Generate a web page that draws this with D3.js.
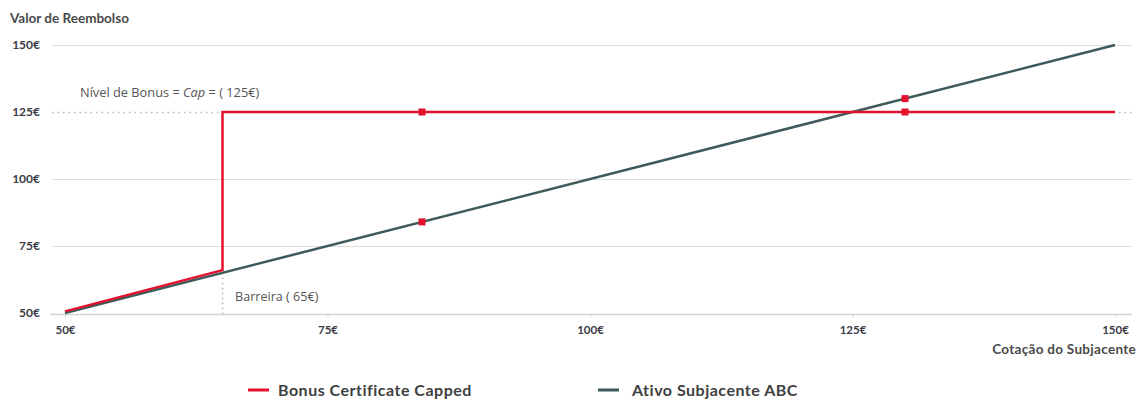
<!DOCTYPE html>
<html>
<head>
<meta charset="utf-8">
<script src="https://cdn.jsdelivr.net/npm/d3@7"></script>
<style>
  html, body { margin: 0; padding: 0; background: #fff; }
  svg { display: block; font-family: Lato, "Open Sans", sans-serif; }
</style>
</head>
<body>
<svg id="chart" width="1140" height="399"></svg>
<script>
// Payoff of a capped bonus certificate vs. the underlying asset
const xTicks = [50, 75, 100, 125, 150];
const yTicks = [50, 75, 100, 125, 150];
const xTickLabels = ["50€", "75€", "100€", "125€", "150€"];
const yTickLabels = ["50€", "75€", "100€", "125€", "150€"];

const barrier = 65;
const cap = 125;

// Bonus Certificate Capped: follows the underlying up to the barrier, then bonus/cap level
const bonusX = [50, 65, 65, 150];
const bonusY = [50.6, 66, 125, 125];

// Underlying asset ABC
const assetX = [50, 150];
const assetY = [50, 150];

// Highlighted points
const bonusMarkX = [84, 130];
const bonusMarkY = [125, 125];
const assetMarkX = [84, 130];
const assetMarkY = [84, 130];

const seriesNames = ["Bonus Certificate Capped", "Ativo Subjacente ABC"];
const seriesColors = ["#e3112e", "#3e5a5a"];

const svg = d3.select("#chart");
const x = d3.scaleLinear().domain([50, 150]).range([65, 1115]);
const y = d3.scaleLinear().domain([50, 150]).range([313, 45]);

const gridLeft = 52, gridRight = 1132;

// Horizontal gridlines (cap level drawn dotted)
const grid = svg.append("g");
yTicks.filter(v => v !== 50).forEach(v => {
  grid.append("line")
    .attr("x1", gridLeft).attr("x2", gridRight)
    .attr("y1", Math.round(y(v)) + 0.5).attr("y2", Math.round(y(v)) + 0.5)
    .attr("stroke", v === cap ? "#b5b5b5" : "#dedede")
    .attr("stroke-width", v === cap ? 1.5 : 1)
    .attr("stroke-dasharray", v === cap ? "1.5,4" : null);
});

// Barrier marker (dotted vertical)
svg.append("line")
  .attr("x1", Math.round(x(barrier)) - 0.5).attr("x2", Math.round(x(barrier)) - 0.5)
  .attr("y1", y(barrier)).attr("y2", y(50) + 1)
  .attr("stroke", "#b0b0b0").attr("stroke-width", 1.5)
  .attr("stroke-dasharray", "1.5,3.5");

// Y axis labels
const yAxis = d3.axisLeft(y).tickValues(yTicks)
  .tickFormat((d, i) => yTickLabels[i]).tickSize(0).tickPadding(0);
const gy = svg.append("g").attr("transform", "translate(40,0)").call(yAxis);
gy.select(".domain").remove();
gy.selectAll("text")
  .attr("fill", "#3b3b48").attr("font-size", 12).attr("font-weight", 700)
  .attr("font-family", "Lato, 'Open Sans', sans-serif");

// X axis
const xAxis = d3.axisBottom(x).tickValues(xTicks)
  .tickFormat((d, i) => xTickLabels[i]).tickSize(3).tickPadding(9);
const gx = svg.append("g").attr("transform", "translate(0,314)").call(xAxis);
gx.select(".domain").remove();
gx.insert("line", ":first-child")
  .attr("x1", 50).attr("x2", gridRight).attr("y1", 0.5).attr("y2", 0.5)
  .attr("stroke", "#d4d4d4").attr("stroke-width", 1.5);
gx.selectAll(".tick line").attr("stroke", "#cfcfcf");
gx.selectAll("text")
  .attr("fill", "#3b3b48").attr("font-size", 11.5).attr("font-weight", 700)
  .attr("font-family", "Lato, 'Open Sans', sans-serif");

// Lines
const line = d3.line().x(d => x(d[0])).y(d => y(d[1]));
svg.append("path")
  .datum(d3.zip(assetX, assetY))
  .attr("d", line).attr("fill", "none")
  .attr("stroke", seriesColors[1]).attr("stroke-width", 2.5);
svg.append("path")
  .datum(d3.zip(bonusX, bonusY))
  .attr("d", line).attr("fill", "none")
  .attr("stroke", seriesColors[0]).attr("stroke-width", 2.5);

// Point markers
const marks = d3.zip(bonusMarkX, bonusMarkY).concat(d3.zip(assetMarkX, assetMarkY));
svg.append("g").selectAll("rect").data(marks).join("rect")
  .attr("x", d => x(d[0]) - 3.5).attr("y", d => y(d[1]) - 3.5)
  .attr("width", 7).attr("height", 7)
  .attr("fill", seriesColors[0]);

// Annotations
svg.append("text")
  .attr("x", 10).attr("y", 23)
  .attr("font-size", 13.5).attr("font-weight", 700).attr("fill", "#4a4a4a")
  .text("Valor de Reembolso");

const capLabel = svg.append("text")
  .attr("x", 80).attr("y", 97)
  .attr("font-size", 12.8).attr("fill", "#555")
  .attr("font-family", "'Open Sans', sans-serif");
capLabel.append("tspan").text("Nível de Bonus = ");
capLabel.append("tspan").attr("font-style", "italic").text("Cap");
capLabel.append("tspan").text(" = ( 125€)");

svg.append("text")
  .attr("x", 235).attr("y", 301)
  .attr("font-size", 12.6).attr("fill", "#555")
  .attr("font-family", "'Open Sans', sans-serif")
  .text("Barreira ( 65€)");

svg.append("text")
  .attr("x", 1136).attr("y", 354).attr("text-anchor", "end")
  .attr("font-size", 13.5).attr("font-weight", 700).attr("fill", "#4a4a4a")
  .attr("letter-spacing", 0.3)
  .text("Cotação do Subjacente");

// Legend
const legendX = [248, 598];
const legend = svg.append("g");
seriesNames.forEach((name, i) => {
  legend.append("line")
    .attr("x1", legendX[i]).attr("x2", legendX[i] + 21)
    .attr("y1", 390).attr("y2", 390)
    .attr("stroke", seriesColors[i]).attr("stroke-width", 3);
  legend.append("text")
    .attr("x", legendX[i] + (i === 0 ? 30 : 34)).attr("y", 396)
    .attr("font-size", 16).attr("font-weight", 700).attr("fill", "#404040")
    .attr("letter-spacing", 0.5)
    .text(name);
});
</script>
</body>
</html>
